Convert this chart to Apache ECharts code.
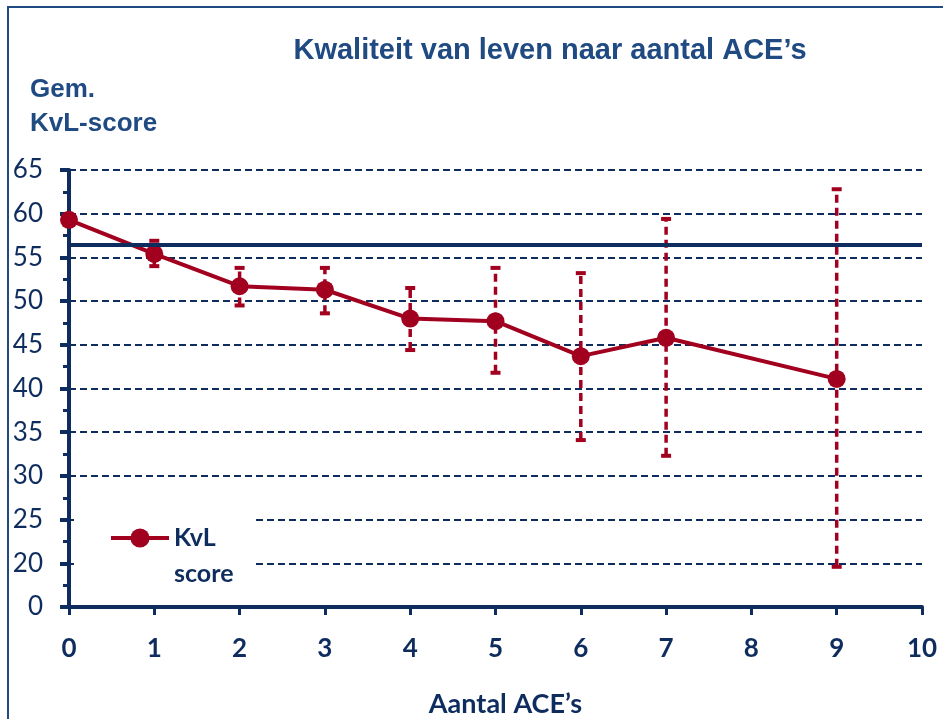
<!DOCTYPE html>
<html>
<head>
    <meta charset="utf-8" />
    <title>Kwaliteit van leven naar aantal ACE's</title>
    <script src="https://cdn.jsdelivr.net/npm/echarts@6/dist/echarts.min.js"></script>
    <style>
        html, body { margin: 0; padding: 0; background: #fff; }
        #chart { width: 943px; height: 719px; }
    </style>
</head>
<body>
    <div id="chart"></div>
    <script>
        // aantal ACE's en gemiddelde KvL-score
        var aces = [0, 1, 2, 3, 4, 5, 6, 7, 9];
        var scores = [59.3, 55.4, 51.7, 51.3, 48.0, 47.7, 43.7, 45.8, 41.1];
        // foutbalken (onder / boven)
        var errLow = [null, 54.0, 49.5, 48.6, 44.4, 41.8, 34.1, 32.3, 19.6];
        var errHigh = [null, 56.9, 53.8, 53.8, 51.5, 53.8, 53.2, 59.4, 62.8];
        // referentielijn
        var refLine = 56.5;

        var navy = '#0e2d5e';
        var red = '#a2001f';

        var lineData = aces.map(function (a, i) { return [a, scores[i]]; });
        var errData = [];
        aces.forEach(function (a, i) {
            if (errLow[i] != null) errData.push([a, errLow[i], errHigh[i]]);
        });

        function renderErr(params, api) {
            var lo = api.coord([api.value(0), api.value(1)]);
            var hi = api.coord([api.value(0), api.value(2)]);
            var cap = 5;
            return {
                type: 'group',
                children: [
                    { type: 'line', shape: { x1: lo[0], y1: lo[1], x2: hi[0], y2: hi[1] },
                      style: { stroke: red, lineWidth: 3.5, lineDash: [8, 5] } },
                    { type: 'line', shape: { x1: hi[0] - cap, y1: hi[1], x2: hi[0] + cap, y2: hi[1] },
                      style: { stroke: red, lineWidth: 4 } },
                    { type: 'line', shape: { x1: lo[0] - cap, y1: lo[1], x2: lo[0] + cap, y2: lo[1] },
                      style: { stroke: red, lineWidth: 4 } }
                ]
            };
        }

        var chart = echarts.init(document.getElementById('chart'));
        var option = {
            animation: false,
            title: [{
                text: "Kwaliteit van leven naar aantal ACE’s",
                left: 545, top: 31, textAlign: 'center',
                textStyle: { fontFamily: 'Liberation Sans', fontWeight: 'bold', fontSize: 29, color: '#1f4a82' }
            }, {
                text: 'Gem.\nKvL-score',
                left: 25, top: 68,
                textStyle: { fontFamily: 'Liberation Sans', fontWeight: 'bold', fontSize: 26, lineHeight: 34, color: '#1f4a82' }
            }],
            graphic: [{
                type: 'rect', z: 0,
                shape: { x: 8, y: 7, width: 960, height: 740 },
                style: { fill: 'none', stroke: '#1f4a82', lineWidth: 2 }
            }, {
                type: 'rect', z: 3,
                shape: { x: 74, y: 508, width: 182, height: 92 },
                style: { fill: '#fff' }
            }],
            legend: {
                left: 104, top: 479, z: 10,
                itemWidth: 58, itemHeight: 24,
                lineStyle: { width: 4 },
                formatter: function (name) { return ' \n' + name; },
                textStyle: { fontFamily: 'Lato', fontWeight: 'bold', fontSize: 25, lineHeight: 36, color: navy },
                data: ['KvL\nscore']
            },
            grid: { left: 69, right: 21, top: 170, bottom: 112, outerBoundsMode: 'none', containLabel: false },
            xAxis: {
                type: 'value', min: 0, max: 10, interval: 1,
                name: 'Aantal ACE’s', nameLocation: 'middle', nameGap: 84,
                nameTextStyle: { fontFamily: 'Lato', fontWeight: 'bold', fontSize: 27, color: navy, padding: [0, 0, 0, 20] },
                axisLine: { lineStyle: { color: navy, width: 4 } },
                axisTick: { show: true, length: 8, lineStyle: { color: navy, width: 3 } },
                axisLabel: { margin: 29, fontFamily: 'Lato', fontWeight: 'bold', fontSize: 26, color: navy },
                splitLine: { show: false }
            },
            yAxis: {
                type: 'value', min: 15, max: 65, interval: 5,
                axisLine: { show: true, lineStyle: { color: navy, width: 4 } },
                axisTick: { show: true, length: 9, lineStyle: { color: navy, width: 4 } },
                minorTick: { show: true, splitNumber: 2, length: 6, lineStyle: { color: navy, width: 3 } },
                axisLabel: {
                    margin: 26, fontFamily: 'Lato', fontSize: 26, color: navy,
                    formatter: function (v) { return v === 15 ? '0' : String(v); }
                },
                splitLine: { show: true, lineStyle: { color: navy, width: 2, type: [7, 4] } }
            },
            series: [{
                type: 'custom',
                name: 'err',
                renderItem: renderErr,
                data: errData,
                z: 2,
                encode: { x: 0, y: [1, 2] }
            }, {
                type: 'line',
                name: 'KvL\nscore',
                data: lineData,
                z: 4,
                symbol: 'circle', symbolSize: 18,
                lineStyle: { color: red, width: 4 },
                itemStyle: { color: red },
                markLine: {
                    silent: true, symbol: 'none',
                    label: { show: false },
                    lineStyle: { color: navy, width: 4, type: 'solid' },
                    data: [{ yAxis: refLine }]
                }
            }]
        };
        chart.setOption(option);
    </script>
</body>
</html>
